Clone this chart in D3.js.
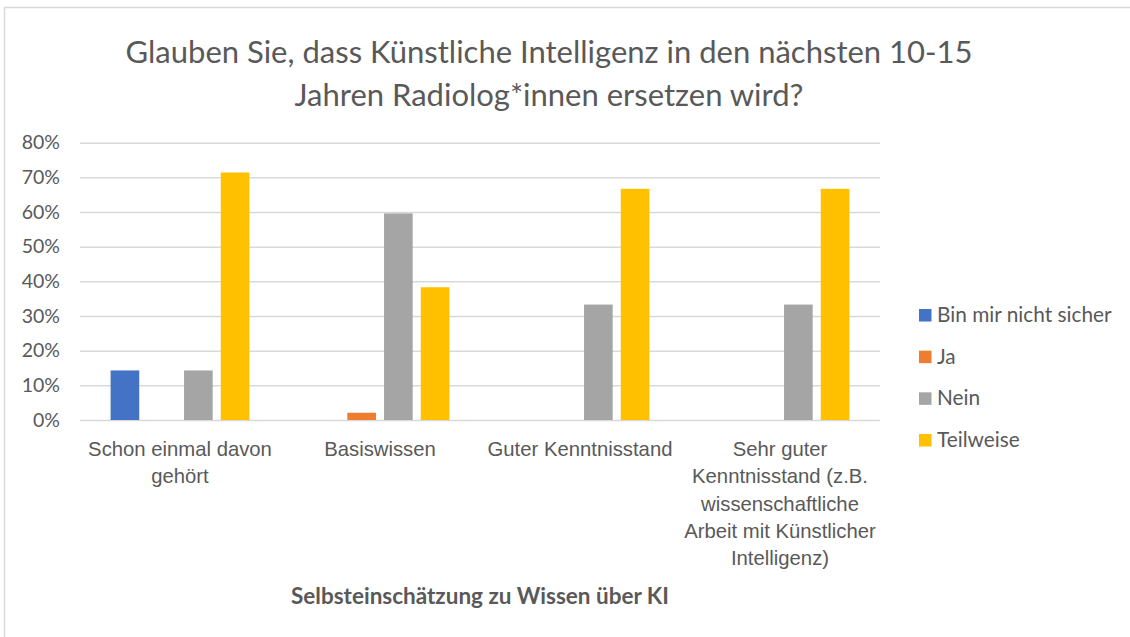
<!DOCTYPE html>
<html>
<head>
<meta charset="utf-8">
<script src="https://cdn.jsdelivr.net/npm/d3@7"></script>
<style>
  body { margin: 0; background: #fff; }
  svg { display: block; font-family: Lato, 'Open Sans', sans-serif; }
</style>
</head>
<body>
<svg id="chart" width="1130" height="637"></svg>
<script>
// Daten
const categories = [
  'Schon einmal davon\ngehört',
  'Basiswissen',
  'Guter Kenntnisstand',
  'Sehr guter\nKenntnisstand (z.B.\nwissenschaftliche\nArbeit mit Künstlicher\nIntelligenz)',
]
const seriesNames = ['Bin mir nicht sicher', 'Ja', 'Nein', 'Teilweise']
const binNichtSicher = [0.143, 0, 0, 0]
const ja = [0, 0.021, 0, 0]
const nein = [0.143, 0.596, 0.333, 0.333]
const teilweise = [0.714, 0.383, 0.667, 0.667]
const yTicks = [0, 0.1, 0.2, 0.3, 0.4, 0.5, 0.6, 0.7, 0.8]
const colors = ['#4472C4', '#ED7D31', '#A5A5A5', '#FFC000']

const title = [
  'Glauben Sie, dass Künstliche Intelligenz in den nächsten 10-15',
  'Jahren Radiolog*innen ersetzen wird?',
]
const xTitle = 'Selbsteinschätzung zu Wissen über KI'

const values = [binNichtSicher, ja, nein, teilweise]
const rows = categories.map((c, i) => ({
  cat: c,
  vals: seriesNames.map((s, j) => ({ key: s, value: values[j][i], color: colors[j] })),
}))

const svg = d3.select('#chart')
const TEXT = '#595959'

// Rahmen (rechts und unten abgeschnitten)
svg.append('rect')
  .attr('x', 4.5).attr('y', 7.5)
  .attr('width', 1140).attr('height', 650)
  .attr('fill', 'none')
  .attr('stroke', '#d9d9d9')
  .attr('stroke-width', 1.5)

const plot = { left: 80, right: 880, top: 142.7, bottom: 420 }

const x0 = d3.scaleBand()
  .domain(categories)
  .range([plot.left, plot.right])
  .paddingInner(0.306)
  .paddingOuter(0.153)

const x1 = d3.scaleBand()
  .domain(seriesNames)
  .range([0, x0.bandwidth()])
  .paddingInner(0.22)

const y = d3.scaleLinear()
  .domain([0, 0.8])
  .range([plot.bottom, plot.top])

// Gitternetzlinien
const yAxis = d3.axisLeft(y)
  .tickValues(yTicks)
  .tickFormat(d3.format('.0%'))
  .tickSize(-(plot.right - plot.left))
  .tickPadding(20)

const gy = svg.append('g')
  .attr('transform', `translate(${plot.left},0)`)
  .call(yAxis)
gy.select('.domain').remove()
gy.selectAll('.tick line').attr('stroke', '#d9d9d9').attr('stroke-width', 1.5)
gy.selectAll('.tick text')
  .attr('fill', TEXT)
  .attr('font-size', 19.5)
  .attr('font-family', 'Lato, sans-serif')

// Balken
svg.append('g')
  .selectAll('g')
  .data(rows)
  .join('g')
  .attr('transform', d => `translate(${x0(d.cat)},0)`)
  .selectAll('rect')
  .data(d => d.vals)
  .join('rect')
  .attr('x', d => x1(d.key))
  .attr('y', d => y(d.value))
  .attr('width', x1.bandwidth())
  .attr('height', d => y(0) - y(d.value))
  .attr('fill', d => d.color)

// Kategorienbeschriftung
const xAxis = d3.axisBottom(x0).tickSize(0).tickFormat('')
const gx = svg.append('g')
  .attr('transform', `translate(0,${plot.bottom})`)
  .call(xAxis)
gx.select('.domain').remove()
gx.selectAll('.tick').each(function (d) {
  const t = d3.select(this).append('text')
    .attr('fill', TEXT)
    .attr('font-size', 20.3)
    .attr('text-anchor', 'middle')
  d.split('\n').forEach((line, i) => {
    t.append('tspan')
      .attr('x', 0)
      .attr('y', 36 + i * 27.3)
      .text(line)
  })
})

// Achsentitel
svg.append('text')
  .attr('x', (plot.left + plot.right) / 2)
  .attr('y', 604)
  .attr('text-anchor', 'middle')
  .attr('fill', TEXT)
  .attr('font-size', 22.5)
  .attr('font-weight', 'bold')
  .text(xTitle)

// Titel
svg.append('text')
  .attr('text-anchor', 'middle')
  .attr('fill', TEXT)
  .attr('font-size', 31)
  .selectAll('tspan')
  .data(title)
  .join('tspan')
  .attr('x', 549)
  .attr('y', (d, i) => 63 + i * 43)
  .text(d => d)

// Legende
const ly = d3.scalePoint()
  .domain(seriesNames)
  .range([315, 440])

const legend = svg.append('g')
  .selectAll('g')
  .data(seriesNames)
  .join('g')
  .attr('transform', d => `translate(919,${ly(d)})`)

legend.append('rect')
  .attr('y', -6)
  .attr('width', 12.5)
  .attr('height', 12.5)
  .attr('fill', (d, i) => colors[i])

legend.append('text')
  .attr('x', 18)
  .attr('y', 7)
  .attr('fill', TEXT)
  .attr('font-size', 20.8)
  .text(d => d)
</script>
</body>
</html>
